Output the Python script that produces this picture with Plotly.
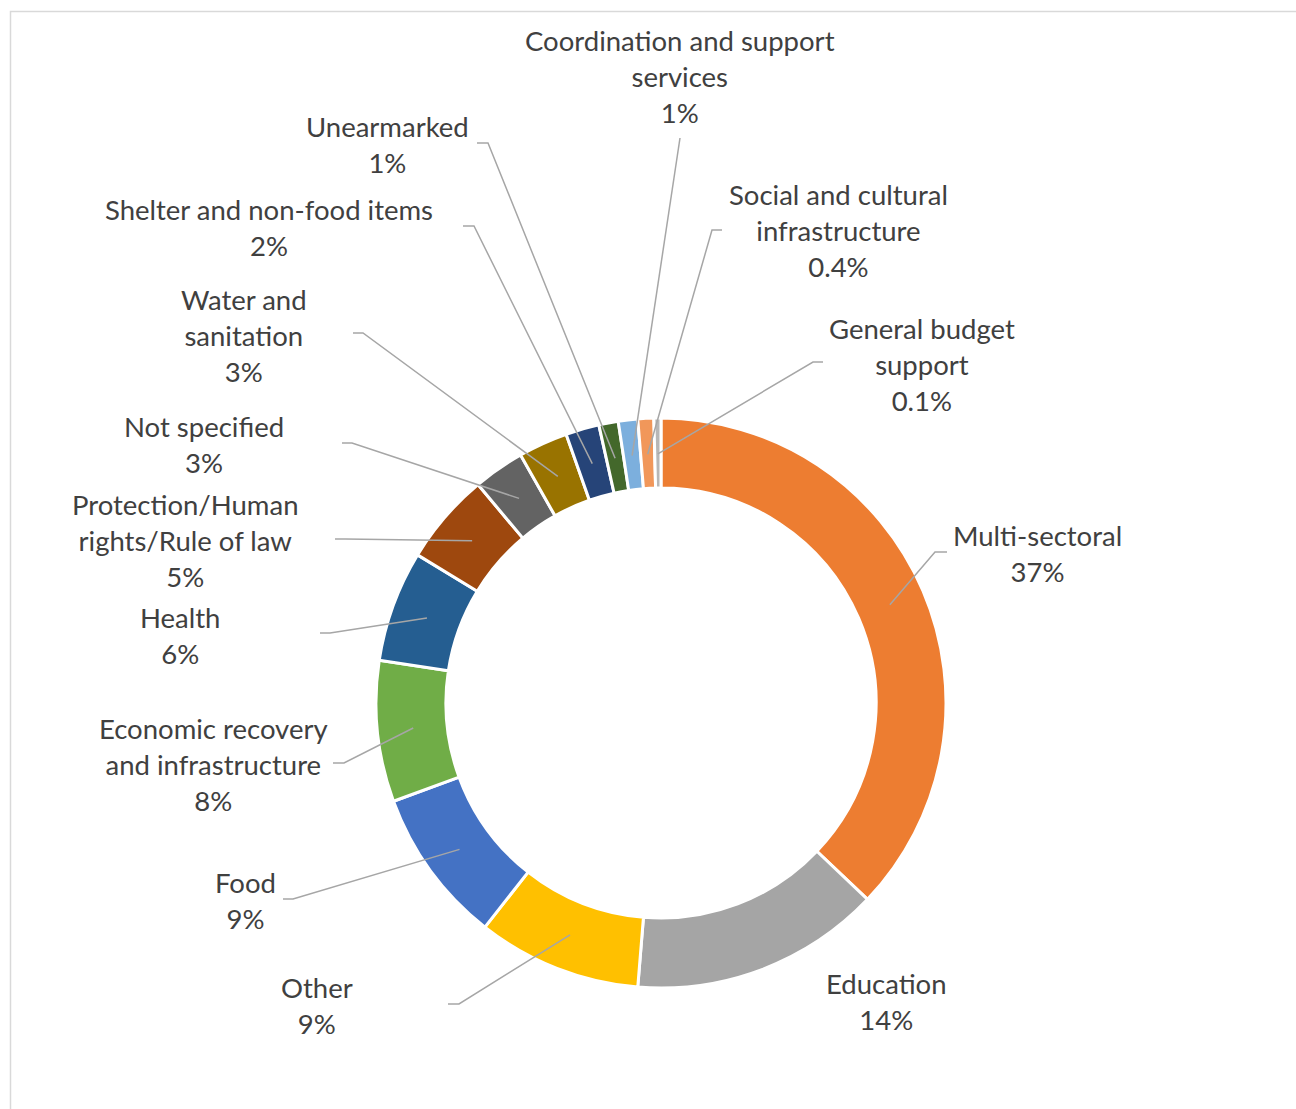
import math
import plotly.graph_objects as go

W, H = 1296, 1109

# ---- data ----
sectors = [
    "Multi-sectoral", "Education", "Other", "Food",
    "Economic recovery and infrastructure", "Health",
    "Protection/Human rights/Rule of law", "Not specified",
    "Water and sanitation", "Shelter and non-food items", "Unearmarked",
    "Coordination and support services", "Social and cultural infrastructure",
    "General budget support",
]
values = [37.1, 14.2, 9.3, 8.8, 8.0, 6.3, 5.2, 2.9, 2.8, 1.9, 1.1, 1.1, 0.9, 0.4]
pct_labels = ["37%", "14%", "9%", "9%", "8%", "6%", "5%", "3%", "3%", "2%",
              "1%", "1%", "0.4%", "0.1%"]
label_lines = [
    ["Multi-sectoral"], ["Education"], ["Other"], ["Food"],
    ["Economic recovery", "and infrastructure"], ["Health"],
    ["Protection/Human", "rights/Rule of law"], ["Not specified"],
    ["Water and", "sanitation"], ["Shelter and non-food items"], ["Unearmarked"],
    ["Coordination and support", "services"], ["Social and cultural", "infrastructure"],
    ["General budget", "support"],
]
colors = ["#ED7D31", "#A5A5A5", "#FFC000", "#4472C4", "#70AD47", "#255E91",
          "#9E480E", "#636363", "#997300", "#264478", "#43682B", "#7CAFDD",
          "#F1975A", "#B7B7B7"]

# ---- layout (pixel positions) ----
CX, CY, R = 661, 703, 283
HOLE = 0.76
label_pos = [(1037, 554), (886, 1001), (317, 1005), (245, 900), (213, 764),
             (180, 635), (185, 540), (204, 444), (244, 335), (269, 227),
             (387, 145), (680, 77), (838, 231), (922, 364)]
# leader line start (at label) and elbow; None = no leader
leader_pts = [((947, 552), (935, 552)), None, ((448, 1004), (459, 1004)),
              ((283, 899), (293, 899)), ((333, 763), (344, 763)),
              ((320, 633), (330, 633)), ((335, 539), (345, 539)),
              ((342, 443), (352, 443)), ((353, 333), (363, 333)),
              ((463, 226), (474, 226)), ((477, 143), (488, 143)),
              ((680, 138), (680, 138)), ((722, 230), (712, 230)),
              ((823, 362), (813, 362))]

def px(x):
    return x / W

def py(y):
    return 1 - y / H

RD = R + 2  # domain radius (plotly trims slightly for the outline)
fig = go.Figure()
fig.add_trace(go.Pie(
    labels=sectors, values=values, hole=HOLE * R / RD, sort=False,
    direction="clockwise", rotation=0, textinfo="none",
    hoverinfo="label+percent",
    marker=dict(colors=colors, line=dict(color="white", width=3)),
    domain=dict(x=[px(CX - RD), px(CX + RD)], y=[py(CY + RD), py(CY - RD)]),
    showlegend=False,
))

total = sum(values)
rmid = R * (1 + HOLE) / 2
shapes = []
annotations = []
cum = 0.0
for i, v in enumerate(values):
    mid = (cum + v / 2) / total * 2 * math.pi
    cum += v
    ex = CX + rmid * math.sin(mid)
    ey = CY - rmid * math.cos(mid)
    lp = leader_pts[i]
    if lp is not None:
        (sx, sy), (bx, by) = lp
        path = f"M {px(sx)} {py(sy)} L {px(bx)} {py(by)} L {px(ex)} {py(ey)}"
        shapes.append(dict(type="path", xref="paper", yref="paper", path=path,
                           line=dict(color="#A6A6A6", width=1.5), layer="above"))
    lx, ly = label_pos[i]
    annotations.append(dict(
        x=px(lx), y=py(ly), xref="paper", yref="paper",
        text="<br>".join(label_lines[i] + [pct_labels[i]]),
        showarrow=False, xanchor="center", yanchor="middle", align="center",
        font=dict(family="Lato", size=27.5, color="#404040"),
    ))

# chart border
shapes.append(dict(type="rect", xref="paper", yref="paper",
                   x0=px(10.5), x1=px(W + 5), y0=py(H + 5), y1=py(11.5),
                   line=dict(color="#D9D9D9", width=1.5), layer="below"))

fig.update_layout(
    width=W, height=H, margin=dict(l=0, r=0, t=0, b=0),
    paper_bgcolor="white", plot_bgcolor="white",
    shapes=shapes, annotations=annotations,
    font=dict(family="Lato", color="#404040"),
)
fig.write_html("out.html")
